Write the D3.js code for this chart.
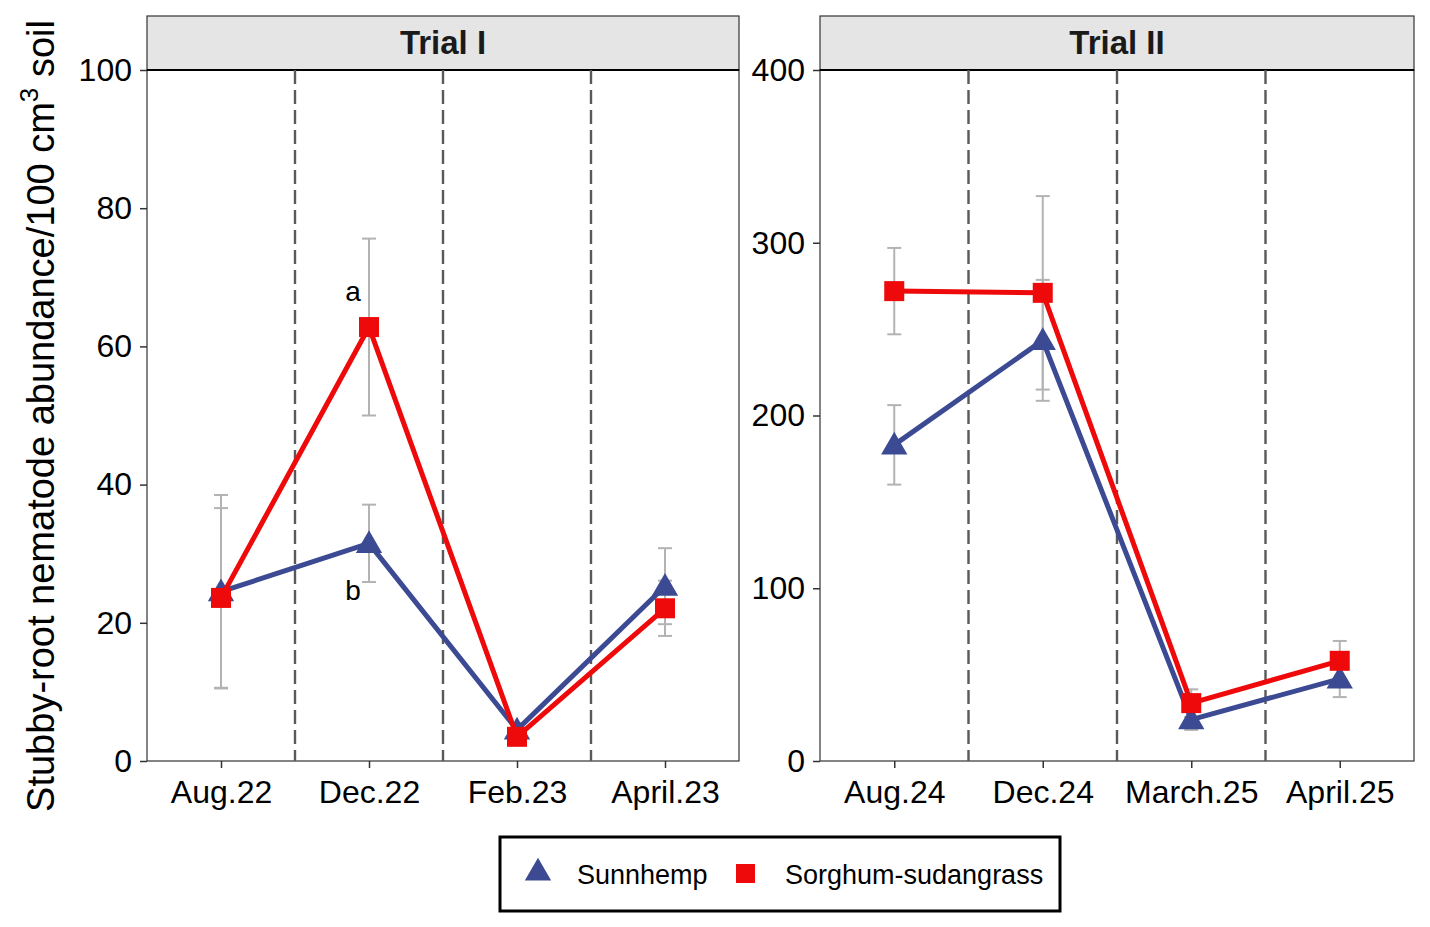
<!DOCTYPE html>
<html>
<head>
<meta charset="utf-8">
<script src="https://cdn.jsdelivr.net/npm/d3@7"></script>
<style>
  body { margin: 0; background: #fff; }
  svg { font-family: "Liberation Sans", Arial, sans-serif; }
</style>
</head>
<body>
<div id="chart"></div>
<script>
// Data
const trial1Dates = ["Aug.22", "Dec.22", "Feb.23", "April.23"]
const trial2Dates = ["Aug.24", "Dec.24", "March.25", "April.25"]

const sunnhemp1 = [24.5, 31.5, 4.5, 25.3]
const sunnhemp1Err = [14, 5.6, 1, 5.5]
const sorghum1 = [23.6, 62.8, 3.5, 22.1]
const sorghum1Err = [13, 12.8, 1, 4]

const sunnhemp2 = [183, 243.5, 24, 47.5]
const sunnhemp2Err = [23, 35, 6, 10.5]
const sorghum2 = [272, 271, 33.5, 58]
const sorghum2Err = [25, 56, 8, 11.5]

const yTicks1 = [0, 20, 40, 60, 80, 100]
const yTicks2 = [0, 100, 200, 300, 400]

const blue = "#3b4a93"
const red = "#ee0a0a"

const svg = d3.select("#chart").append("svg")
	.attr("width", 1430)
	.attr("height", 927)

const panelTop = 70
const panelBottom = 761

const panels = [
	{ title: "Trial I", x0: 147, x1: 739, dates: trial1Dates, ymax: 100, ticks: yTicks1,
	  sun: sunnhemp1, sunErr: sunnhemp1Err, sor: sorghum1, sorErr: sorghum1Err },
	{ title: "Trial II", x0: 820, x1: 1414, dates: trial2Dates, ymax: 400, ticks: yTicks2,
	  sun: sunnhemp2, sunErr: sunnhemp2Err, sor: sorghum2, sorErr: sorghum2Err }
]

const triangle = d3.symbol().type(d3.symbolTriangle).size(300)

panels.forEach((p, pi) => {
	const x = d3.scalePoint().domain(p.dates).range([p.x0, p.x1]).padding(0.5)
	const y = d3.scaleLinear().domain([0, p.ymax]).range([panelBottom, panelTop])
	const g = svg.append("g")

	// panel background + border
	g.append("rect")
		.attr("x", p.x0).attr("y", panelTop)
		.attr("width", p.x1 - p.x0).attr("height", panelBottom - panelTop)
		.attr("fill", "#fff").attr("stroke", "#333").attr("stroke-width", 1.2)

	// strip
	g.append("rect")
		.attr("x", p.x0).attr("y", 16)
		.attr("width", p.x1 - p.x0).attr("height", panelTop - 16)
		.attr("fill", "#e5e5e5").attr("stroke", "#333").attr("stroke-width", 1.2)
	g.append("line")
		.attr("x1", p.x0).attr("x2", p.x1)
		.attr("y1", panelTop).attr("y2", panelTop)
		.attr("stroke", "#000").attr("stroke-width", 2)
	g.append("text")
		.attr("x", (p.x0 + p.x1) / 2).attr("y", 54)
		.attr("text-anchor", "middle")
		.style("font-size", "33px").style("font-weight", "bold")
		.attr("fill", "#1a1a1a")
		.text(p.title)

	// dashed separators between sampling dates
	const step = x.step()
	for (let i = 0; i < p.dates.length - 1; i++) {
		const xd = x(p.dates[i]) + step / 2
		g.append("line")
			.attr("x1", xd).attr("x2", xd)
			.attr("y1", panelTop).attr("y2", panelBottom)
			.attr("stroke", "#595959").attr("stroke-width", 2.4)
			.attr("stroke-dasharray", "14,6")
	}

	// axes
	const yAxis = g.append("g")
		.attr("transform", `translate(${p.x0},0)`)
		.call(d3.axisLeft(y).tickValues(p.ticks).tickSize(7).tickPadding(8))
	yAxis.select(".domain").remove()
	yAxis.selectAll("line").attr("stroke", "#333").attr("stroke-width", 1.5)
	yAxis.selectAll("text").style("font-size", "32px").attr("fill", "#000")
		.attr("font-family", "Liberation Sans, Arial, sans-serif")

	const xAxis = g.append("g")
		.attr("transform", `translate(0,${panelBottom})`)
		.call(d3.axisBottom(x).tickSize(7).tickPadding(12))
	xAxis.select(".domain").remove()
	xAxis.selectAll("line").attr("stroke", "#333").attr("stroke-width", 1.5)
	xAxis.selectAll("text").style("font-size", "32px").attr("fill", "#000")
		.attr("font-family", "Liberation Sans, Arial, sans-serif")

	const series = [
		{ vals: p.sor, err: p.sorErr },
		{ vals: p.sun, err: p.sunErr }
	]

	// error bars
	series.forEach((s) => {
		p.dates.forEach((d, i) => {
			const cx = x(d)
			const lo = y(s.vals[i] - s.err[i])
			const hi = y(s.vals[i] + s.err[i])
			const eb = g.append("g").attr("stroke", "#b3b3b3").attr("stroke-width", 2)
			eb.append("line").attr("x1", cx).attr("x2", cx).attr("y1", lo).attr("y2", hi)
			eb.append("line").attr("x1", cx - 7).attr("x2", cx + 7).attr("y1", lo).attr("y2", lo)
			eb.append("line").attr("x1", cx - 7).attr("x2", cx + 7).attr("y1", hi).attr("y2", hi)
		})
	})

	const line = d3.line().x((d, i) => x(p.dates[i])).y((d) => y(d))

	// sunnhemp line + triangles
	g.append("path").datum(p.sun)
		.attr("fill", "none").attr("stroke", blue).attr("stroke-width", 5)
		.attr("stroke-linejoin", "round")
		.attr("d", line)
	g.selectAll(".tri").data(p.sun).enter().append("path")
		.attr("transform", (d, i) => `translate(${x(p.dates[i])},${y(d) + 2})`)
		.attr("d", triangle)
		.attr("fill", blue)

	// sorghum line + squares
	g.append("path").datum(p.sor)
		.attr("fill", "none").attr("stroke", red).attr("stroke-width", 5)
		.attr("stroke-linejoin", "round")
		.attr("d", line)
	g.selectAll(".sq").data(p.sor).enter().append("rect")
		.attr("x", (d, i) => x(p.dates[i]) - 10)
		.attr("y", (d) => y(d) - 10)
		.attr("width", 20).attr("height", 20)
		.attr("fill", red)

	// significance letters for Trial I, Dec.22
	if (pi === 0) {
		g.append("text").attr("x", x("Dec.22") - 16).attr("y", y(62.8) - 26)
			.attr("text-anchor", "middle").style("font-size", "28px").text("a")
		g.append("text").attr("x", x("Dec.22") - 16).attr("y", y(31.5) + 57)
			.attr("text-anchor", "middle").style("font-size", "28px").text("b")
	}
})

// y-axis title
svg.append("text")
	.attr("transform", "translate(54,416) rotate(-90)")
	.attr("text-anchor", "middle")
	.style("font-size", "38px")
	.attr("fill", "#000")
	.html('Stubby-root nematode abundance/100 cm<tspan dy="-16" style="font-size:26px">3</tspan><tspan dy="16"> soil</tspan>')

// legend
const legend = svg.append("g")
legend.append("rect")
	.attr("x", 500).attr("y", 837).attr("width", 560).attr("height", 74)
	.attr("fill", "#fff").attr("stroke", "#000").attr("stroke-width", 3)
legend.append("path")
	.attr("transform", "translate(538,873)")
	.attr("d", triangle).attr("fill", blue)
legend.append("text").attr("x", 577).attr("y", 884)
	.style("font-size", "27px").text("Sunnhemp")
legend.append("rect")
	.attr("x", 736).attr("y", 864).attr("width", 19).attr("height", 19)
	.attr("fill", red)
legend.append("text").attr("x", 785).attr("y", 884)
	.style("font-size", "27px").text("Sorghum-sudangrass")
</script>
</body>
</html>
